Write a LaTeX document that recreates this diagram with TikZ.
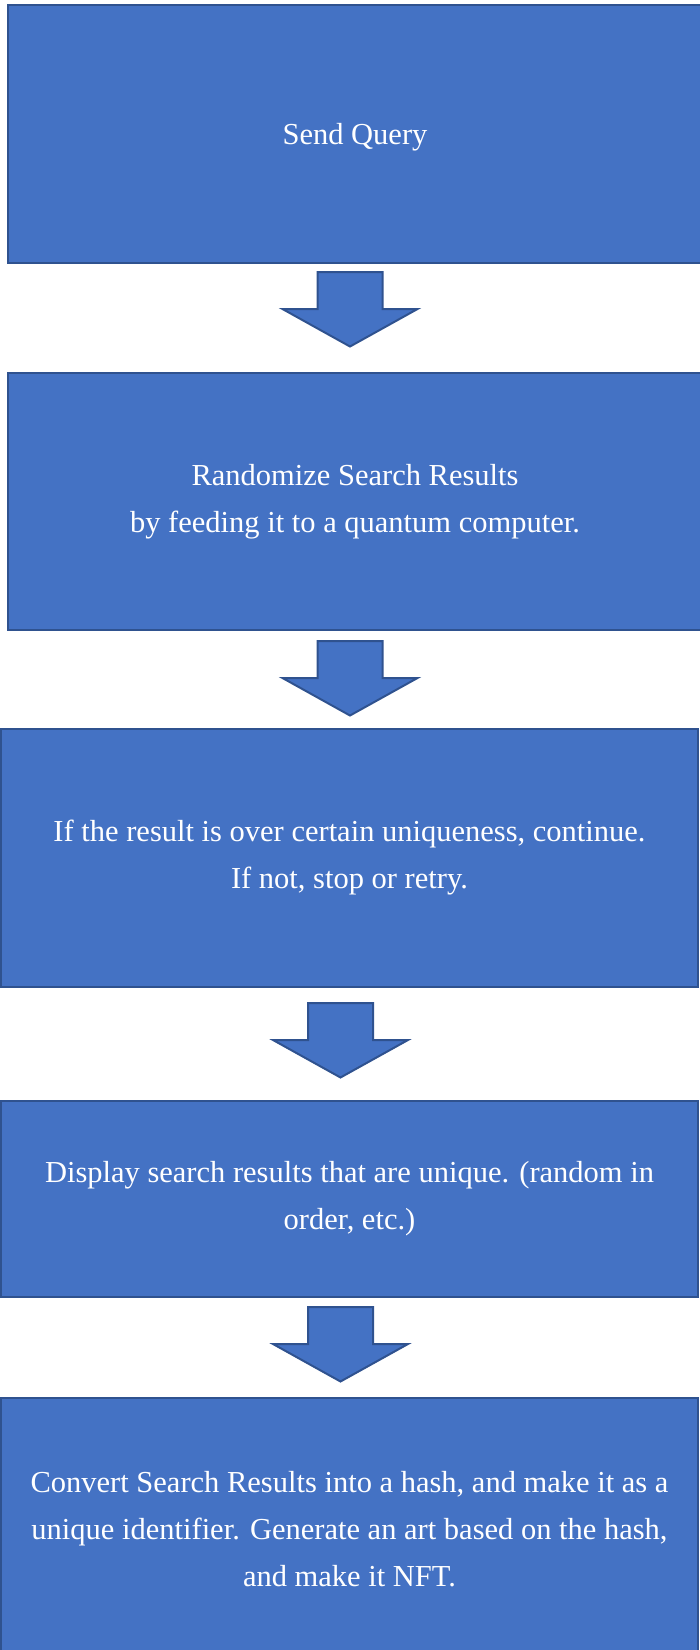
\documentclass[tikz,border=0pt]{standalone}
\usepackage{fontspec}
\setmainfont{Liberation Serif}
\usetikzlibrary{positioning}
\definecolor{boxblue}{HTML}{4472C4}
\definecolor{boxedge}{HTML}{2F528F}
\tikzset{
	stepbox/.style={draw=boxedge, fill=boxblue, line width=2pt, text=white,
		align=center, inner sep=0pt, font=\fontsize{30.5}{47}\selectfont},
	blockarrow/.style={draw=boxedge, fill=boxblue, line width=2pt, line join=miter}
}
\begin{document}
\begin{tikzpicture}[x=1pt,y=-1pt]
\useasboundingbox (0,0) rectangle (700,1650);
%riquadri
\node[stepbox, minimum width=694pt, minimum height=258pt, text height=27pt, text depth=6pt] (query) at (355,134) {Send Query};
\node[stepbox, minimum width=694pt, minimum height=257pt] (random) at (355,501.5) {Randomize Search Results\\by feeding it to a quantum computer.};
\node[stepbox, minimum width=697pt, minimum height=258pt] (check) at (349.5,858) {If the result is over certain uniqueness, continue.\\If not, stop or retry.};
\node[stepbox, minimum width=697pt, minimum height=196pt] (display) at (349.5,1199) {Display search results that are unique. (random in\\order, etc.)};
\node[stepbox, minimum width=697pt, minimum height=262pt] (nft) at (349.5,1529) {Convert Search Results into a hash, and make it as a\\unique identifier. Generate an art based on the hash,\\and make it NFT.};
%frecce
\foreach \cx/\ty in {350/272, 350/641, 340.5/1003, 340.5/1307}
	\draw[blockarrow] (\cx-32.5,\ty) -- (\cx+32.5,\ty) -- (\cx+32.5,\ty+37)
		-- (\cx+67.5,\ty+37) -- (\cx,\ty+74.5) -- (\cx-67.5,\ty+37)
		-- (\cx-32.5,\ty+37) -- cycle;
\end{tikzpicture}
\end{document}
